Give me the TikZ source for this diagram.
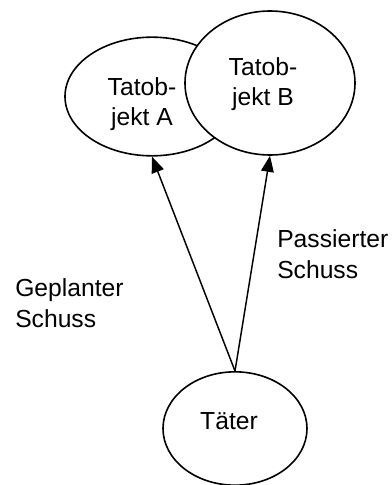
\documentclass[tikz,border=0pt]{standalone}
\usepackage{fontspec}
\setmainfont{Liberation Sans}
\usepackage{tikz}
\usetikzlibrary{shapes.geometric,arrows.meta}
\tikzset{
  obj/.style={draw=black, fill=white, ellipse, line width=1.2pt, inner sep=0pt},
  lab/.style={inner sep=0pt, font=\fontsize{18.5}{23}\selectfont},
  shot/.style={draw=black, line width=1.1pt, -{Triangle[length=12pt,width=9.5pt]}},
}
\begin{document}
\begin{tikzpicture}[x=0.75pt, y=-0.75pt]
  \useasboundingbox (0,0) rectangle (392,485);
  % objects, B lies over A
  \node[obj, minimum width=130.5pt, minimum height=89pt] (objA) at (152,96.5) {};
  \node[obj, minimum width=127.5pt, minimum height=108pt] (objB) at (270,83) {};
  \node[obj, minimum width=108pt, minimum height=85pt] (taeter) at (235,428.5) {};
  \node[lab, align=center] (txtA) at (142,104) {Tatob-\\jekt A};
  \node[lab, align=center] (txtB) at (263,84) {Tatob-\\jekt B};
  \node[lab] (txtT) at (229,421.5) {Täter};
  % shots
  \draw[shot] (taeter.north) -- (objA.south);
  \draw[shot] (taeter.north) -- (objB.south);
  \node[lab, align=left, anchor=west] (geplant) at (15,303) {Geplanter\\Schuss};
  \node[lab, align=left, anchor=west] (passiert) at (277,254.5) {Passierter\\Schuss};
\end{tikzpicture}
\end{document}
